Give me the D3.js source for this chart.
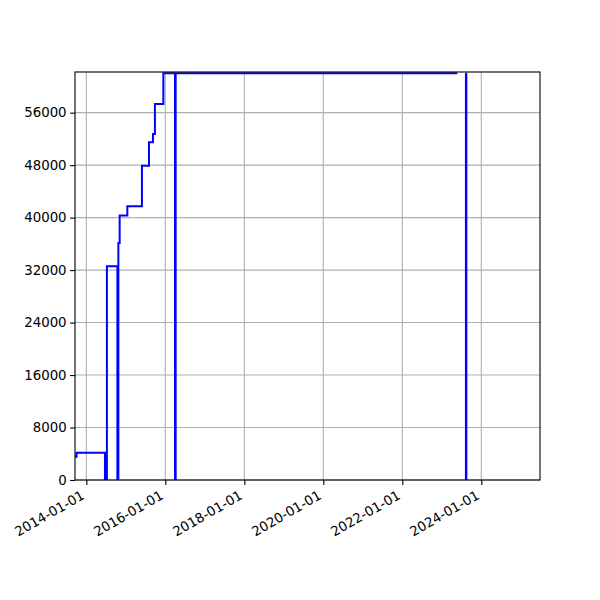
<!DOCTYPE html>
<html><head><meta charset="utf-8">
<script src="https://cdn.jsdelivr.net/npm/d3@7"></script>
<style>
body{margin:0;background:#fff;}
text{font-family:"DejaVu Sans",sans-serif;}
</style></head>
<body>
<svg id="c" width="600" height="600"></svg>
<script>
const dates = ["2013-09-18","2013-10-02","2014-06-22","2014-07-10","2014-10-15","2014-10-24","2014-11-05","2015-01-15","2015-05-30","2015-08-03","2015-09-09","2015-09-27","2015-12-14","2016-03-31","2016-04-06","2023-05-24","2023-05-25","2023-08-10","2023-08-12","2023-08-16"];
const values = [3550,4160,0,32570,0,36130,40330,41750,47890,51480,52760,57330,62000,0,62000,62000,null,62000,0,62000];
const yTicks = [0,8000,16000,24000,32000,40000,48000,56000];
const xTicks = ["2014-01-01","2016-01-01","2018-01-01","2020-01-01","2022-01-01","2024-01-01"];
const xDomain = ["2013-09-18","2025-06-27"];
const yDomain = [0,62200];

const parse = d3.utcParse("%Y-%m-%d");
const fmt = d3.utcFormat("%Y-%m-%d");
const data = dates.map((d,i)=>({date:parse(d), value:values[i]}));

const L=75, R=540, T=72, B=480;
const svg = d3.select("#c");
const x = d3.scaleUtc().domain(xDomain.map(parse)).range([L,R]);
const y = d3.scaleLinear().domain(yDomain).range([B,T]);

// grid
const g = svg.append("g");
g.selectAll(".vg").data(xTicks.map(parse)).join("line")
  .attr("x1",d=>x(d)).attr("x2",d=>x(d)).attr("y1",T).attr("y2",B)
  .attr("stroke","#b0b0b0").attr("stroke-width",1.1);
g.selectAll(".hg").data(yTicks).join("line")
  .attr("x1",L).attr("x2",R).attr("y1",d=>y(d)).attr("y2",d=>y(d))
  .attr("stroke","#b0b0b0").attr("stroke-width",1.1);

svg.append("defs").append("clipPath").attr("id","clip")
  .append("rect").attr("x",L).attr("y",T).attr("width",R-L).attr("height",B-T);

const line = d3.line().defined(d=>d.value!==null)
  .x(d=>x(d.date)).y(d=>y(d.value)).curve(d3.curveStepAfter);
svg.append("path").datum(data).attr("d",line)
  .attr("fill","none").attr("stroke","#0000ff").attr("stroke-width",2)
  .attr("clip-path","url(#clip)");

// axes
const xa = svg.append("g").attr("transform",`translate(0,${B})`)
  .call(d3.axisBottom(x).tickValues(xTicks.map(parse)).tickFormat(fmt).tickSize(4.9).tickPadding(3.5));
xa.select(".domain").remove();
xa.selectAll(".tick line").attr("stroke","#000").attr("stroke-width",1.1);
xa.selectAll(".tick text")
  .attr("font-size","13.33px").attr("fill","#000")
  .attr("text-anchor","end").attr("dy",null)
  .attr("transform","translate(-1.5,18) rotate(-30)")
  .attr("y",0).attr("x",0);

const ya = svg.append("g").attr("transform",`translate(${L},0)`)
  .call(d3.axisLeft(y).tickValues(yTicks).tickFormat(d3.format("d")).tickSize(4.9).tickPadding(3.5));
ya.select(".domain").remove();
ya.selectAll(".tick line").attr("stroke","#000").attr("stroke-width",1.1);
ya.selectAll(".tick text").attr("font-size","13.33px").attr("fill","#000");

svg.append("rect").attr("x",L).attr("y",T).attr("width",R-L).attr("height",B-T)
  .attr("fill","none").attr("stroke","#000").attr("stroke-width",1.1);
</script>
</body></html>
